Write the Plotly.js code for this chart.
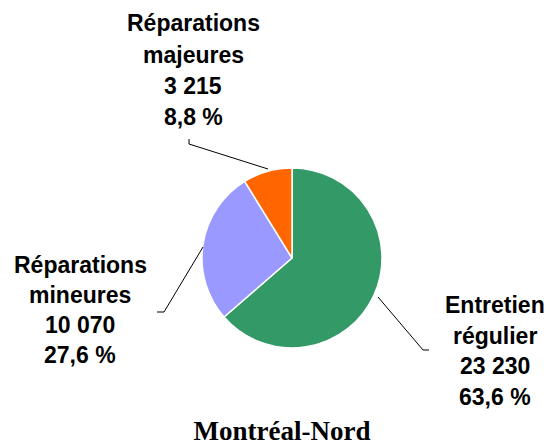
<!DOCTYPE html>
<html>
<head>
<meta charset="utf-8">
<script src="https://cdn.plot.ly/plotly-3.0.1.min.js"></script>
<style>html,body{margin:0;padding:0;background:#fff}#chart{width:551px;height:445px}</style>
</head>
<body>
<div id="chart"></div>
<script>
const categories = ["Entretien régulier", "Réparations mineures", "Réparations majeures"];
const labelLines = [["Entretien", "régulier"], ["Réparations", "mineures"], ["Réparations", "majeures"]];
const values = [23230, 10070, 3215];
const percents = ["63,6 %", "27,6 %", "8,8 %"];
const valueLabels = ["23 230", "10 070", "3 215"];
const colors = ["#339966", "#9999ff", "#ff6600"];
const chartTitle = "Montréal-Nord";

const W = 551, H = 445;
const px = x => x / W;
const py = y => 1 - y / H;

// label block: center x, first line center y, line spacing (pixels)
const labelPos = [[495, 305, 30.7], [80, 265, 30], [193, 23, 31.5]];
const leaders = [
  [[378, 297], [423, 350], [429, 350]],
  [[203, 247], [164, 312], [157, 312]],
  [[268, 169], [189, 144], [189, 139]]
];

const cx = 292, cy = 258, r = 90;

const annotations = [];
categories.forEach((c, i) => {
  const lines = labelLines[i].concat([valueLabels[i], percents[i]]);
  lines.forEach((t, k) => annotations.push({
    xref: "paper", yref: "paper",
    x: px(labelPos[i][0]), y: py(labelPos[i][1] + k * labelPos[i][2]),
    xanchor: "center", yanchor: "middle",
    showarrow: false, align: "center",
    text: t,
    font: {family: "Liberation Sans, Arial, sans-serif", size: 23, color: "#000", weight: "bold"}
  }));
});

const shapes = leaders.map(pts => ({
  type: "path", xref: "paper", yref: "paper",
  path: pts.map((p, k) => (k ? "L" : "M") + px(p[0]) + "," + py(p[1])).join(" "),
  line: {color: "#000", width: 1}
}));

const data = [{
  type: "pie",
  labels: categories,
  values: values,
  sort: false,
  direction: "clockwise",
  rotation: 0,
  textinfo: "none",
  hoverinfo: "label+value+percent",
  marker: {colors: colors, line: {color: "#fff", width: 1.5}},
  domain: {x: [px(cx - r), px(cx + r)], y: [py(cy + r), py(cy - r)]},
  showlegend: false
}];

const layout = {
  width: W, height: H,
  margin: {l: 0, r: 0, t: 0, b: 0},
  paper_bgcolor: "#fff",
  showlegend: false,
  title: {
    text: "<b>" + chartTitle + "</b>",
    x: px(282), y: py(431), xanchor: "center", yanchor: "middle",
    xref: "paper", yref: "paper",
    font: {family: "Liberation Serif, Times New Roman, serif", size: 27, color: "#000"}
  },
  annotations: annotations,
  shapes: shapes
};

Plotly.newPlot("chart", data, layout, {displayModeBar: false, staticPlot: true});
</script>
</body>
</html>
